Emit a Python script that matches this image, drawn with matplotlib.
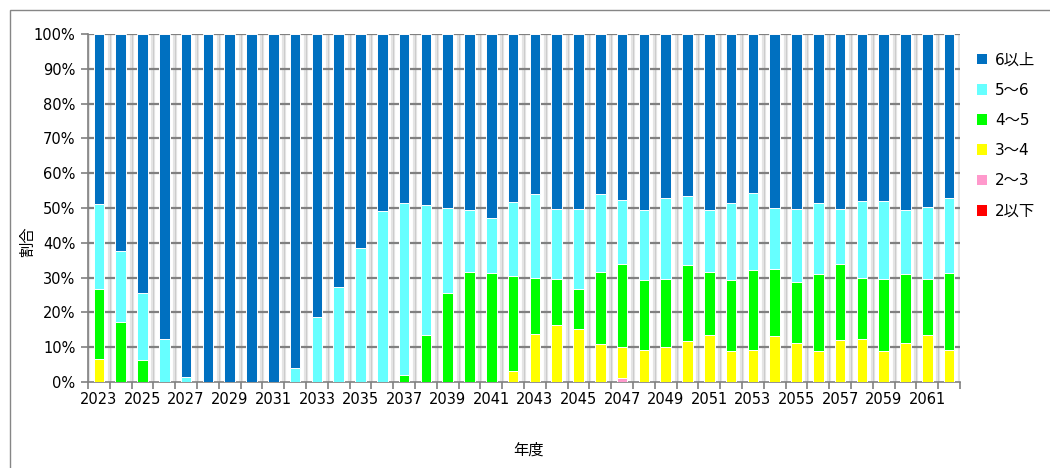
import matplotlib
matplotlib.use("Agg")
import matplotlib.pyplot as plt
from matplotlib.patches import Rectangle, Patch
import numpy as np

plt.rcParams["font.family"] = ["DejaVu Sans", "Noto Sans CJK JP"]

# 年度
years = list(range(2023, 2063))

# 区分ごとの割合 (%)
share_le2 = [0.0] * 40
share_2_3 = [0, 0, 0, 0, 0, 0, 0, 0, 0, 0, 0, 0, 0, 0, 0, 0, 0, 0, 0, 0,
             0, 0, 0, 0, 1.2, 0, 0, 0, 0, 0, 0, 0, 0, 0, 0, 0, 0, 0, 0, 0]
share_3_4 = [6.6, 0, 0, 0, 0, 0, 0, 0, 0, 0, 0, 0, 0, 0, 0, 0, 0, 0, 0, 3.3,
             13.9, 16.3, 15.1, 10.8, 8.9, 9.1, 10.1, 11.7, 13.5, 8.8,
             9.2, 13.2, 11.3, 8.8, 12.0, 12.4, 8.8, 11.1, 13.5, 9.3]
share_4_5 = [20.2, 17.1, 6.2, 0, 0, 0, 0, 0, 0, 0, 0, 0, 0, 0, 2.1, 13.4, 25.5, 31.7, 31.4, 27.2,
             16.1, 13.2, 11.7, 20.9, 23.9, 20.1, 19.5, 22.0, 18.0, 20.4,
             23.1, 19.4, 17.5, 22.1, 21.8, 17.4, 20.7, 19.8, 16.1, 22.1]
share_5_6 = [24.4, 20.6, 19.3, 12.4, 1.3, 0, 0, 0, 0, 3.9, 18.7, 27.4, 38.5, 49.2, 49.2, 37.4,
             24.5, 17.6, 15.6, 21.3, 24.1, 20.1, 23.0, 22.4, 18.3, 20.2,
             23.3, 19.8, 17.8, 22.1, 22.1, 17.4, 21.0, 20.4, 16.0, 22.2,
             22.4, 18.5, 20.8, 21.4]

labels = ["2以下", "2～3", "3～4", "4～5", "5～6", "6以上"]
colors = ["#ff0000", "#ff99cc", "#ffff00", "#00ff00", "#66ffff", "#0070c0"]

lower = [share_le2, share_2_3, share_3_4, share_4_5, share_5_6]
share_ge6 = [100 - sum(v) for v in zip(*lower)]
series = lower + [share_ge6]

W, H = 1050, 468
fig = plt.figure(figsize=(W / 100, H / 100), dpi=100)
# グラフエリアの枠
fig.patches.append(Rectangle((10 / W, -0.1), 1.2, 1 - 10 / H + 0.1,
                             transform=fig.transFigure, fill=False,
                             edgecolor="#868686", lw=1.0))

ax = fig.add_axes([88 / W, 1 - 382 / H, 872 / W, 348 / H])
x = np.arange(len(years))

# 縦の区切り線
for b in np.arange(-0.5, len(years) + 0.5, 1.0):
    ax.axvline(b, color="#e4e4e4", lw=3.0, zorder=0)
    ax.axvline(b, color="#c8c8c8", lw=0.6, zorder=0)
for v in range(10, 101, 10):
    ax.axhline(v, color="#808080", lw=1.6, zorder=1)

bottom = np.zeros(len(years))
handles = []
for vals, lab, col in zip(series, labels, colors):
    vals = np.array(vals, dtype=float)
    ax.bar(x, vals, width=0.48, bottom=bottom, color=col,
           edgecolor="white", linewidth=0.7, zorder=3)
    bottom += vals
    handles.append(Patch(facecolor=col, edgecolor="none", label=lab))

ax.set_xlim(-0.5, len(years) - 0.5)
ax.set_ylim(0, 100)
ax.set_yticks(range(0, 101, 10))
ax.set_yticklabels([f"{v}%" for v in range(0, 101, 10)], fontsize=10.5)
ax.set_xticks(x[::2])
ax.set_xticklabels([str(y) for y in years[::2]], fontsize=10.5)
ax.set_xticks(np.arange(-0.5, len(years), 1.0), minor=True)
ax.tick_params(axis="x", which="major", length=0, pad=7)
ax.tick_params(axis="x", which="minor", length=5, color="#808080", width=1.2)
ax.tick_params(axis="y", length=5, color="#808080", width=1.2, pad=4)

for s in ("top", "right"):
    ax.spines[s].set_visible(False)
ax.spines["left"].set_color("#808080")
ax.spines["left"].set_linewidth(1.2)
ax.spines["bottom"].set_color("#808080")
ax.spines["bottom"].set_linewidth(1.2)

fig.text(528 / W, 1 - 450 / H, "年度", fontsize=11, ha="center", va="center",
         family=["Noto Sans CJK JP"])
fig.text(28 / W, 1 - 242 / H, "割合", fontsize=11, ha="center", va="center",
         rotation=90, family=["Noto Sans CJK JP"])

leg = ax.legend(handles[::-1], labels[::-1], loc="upper left",
                bbox_to_anchor=(1.012, 0.965), frameon=False, fontsize=11,
                handlelength=0.7, handleheight=0.7, handletextpad=0.5,
                labelspacing=1.0, borderaxespad=0)
for t in leg.get_texts():
    t.set_family(["DejaVu Sans", "Noto Sans CJK JP"])

fig.savefig("out.png", dpi=100)
